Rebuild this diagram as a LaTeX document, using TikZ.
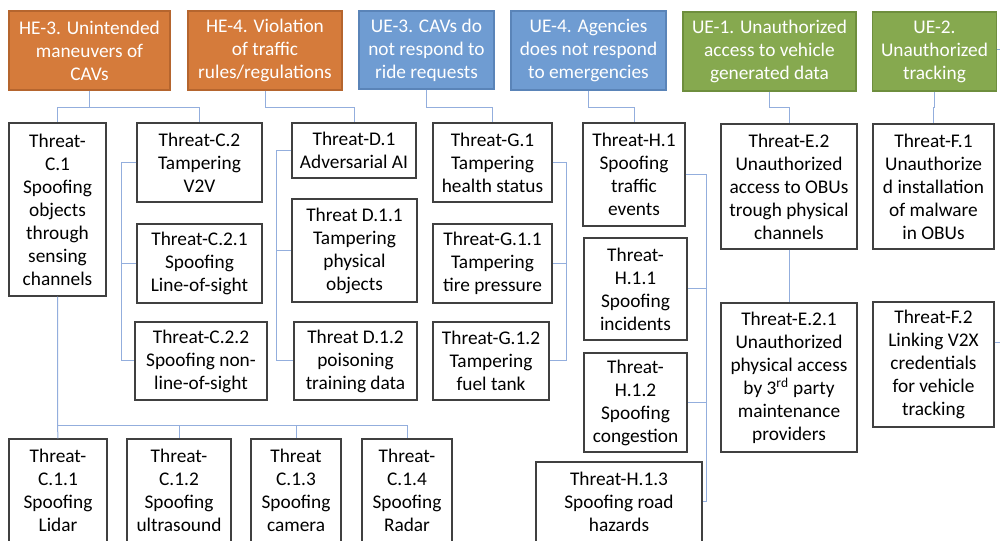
\documentclass[tikz,border=0pt]{standalone}
\usepackage{fontspec}
\setmainfont{Carlito}
\begin{document}
\begin{tikzpicture}[x=0.75pt,y=-0.75pt,
  sz/.style 2 args={minimum width=#1*0.75pt,minimum height=#2*0.75pt},
  base/.style={draw,align=center,inner sep=0pt,line width=0.9pt,
    font=\fontsize{14.5pt}{17.25pt}\selectfont,
    execute at begin node={\rule{0pt}{1.3em}}},
  orangebox/.style={base,fill=heorange,draw=heorangeD,text=white},
  bluebox/.style={base,fill=ueblue,draw=uebllueD,text=white},
  greenbox/.style={base,fill=uegreen,draw=uegreenD,text=white},
  threat/.style={base,fill=white,draw=threatgray,text=black},
  conn/.style={draw=connblue,line width=0.75pt}]
\definecolor{heorange}{HTML}{D57B3B}
\definecolor{heorangeD}{HTML}{B5652E}
\definecolor{ueblue}{HTML}{6F9CD2}
\definecolor{uebllueD}{HTML}{5A84B8}
\definecolor{uegreen}{HTML}{86A94F}
\definecolor{uegreenD}{HTML}{6E8E3D}
\definecolor{threatgray}{HTML}{404040}
\definecolor{connblue}{HTML}{93AEDD}

\useasboundingbox (0,0) rectangle (1000,541);
\clip (0,0) rectangle (1000,541);
\fill[white] (0,0) rectangle (1000,541);

% top row: hazardous and undesirable events
\node[orangebox,sz={161}{79}] (he3) at (89.5,50.5) {HE-3. Unintended\\maneuvers of\\CAVs};
\node[orangebox,sz={154}{79}] (he4) at (265,50.5) {HE-4. Violation\\of traffic\\rules/regulations};
\node[bluebox,sz={135}{78}] (ue3) at (426.5,50) {UE-3. CAVs do\\not respond to\\ride requests};
\node[bluebox,sz={155}{79}] (ue4) at (588.5,50.5) {UE-4. Agencies\\does not respond\\to emergencies};
\node[greenbox,sz={173}{79}] (ue1) at (769.5,51.5) {UE-1. Unauthorized\\access to vehicle\\generated data};
\node[greenbox,sz={124}{79}] (ue2) at (934.5,51.5) {UE-2.\\Unauthorized\\tracking};

% threats under HE-3
\node[threat,sz={97}{173}] (c1) at (57.5,209.5) {Threat-\\C.1\\Spoofing\\objects\\through\\sensing\\channels};
\node[threat,sz={125}{79}] (c2) at (199.5,162.5) {Threat-C.2\\Tampering\\V2V};
\node[threat,sz={125}{79}] (c21) at (199.5,263.5) {Threat-C.2.1\\Spoofing\\Line-of-sight};
\node[threat,sz={132}{78}] (c22) at (201,361) {Threat-C.2.2\\Spoofing non-\\line-of-sight};
\node[threat,sz={98}{103}] (c11) at (58,490.5) {Threat-\\C.1.1\\Spoofing\\Lidar};
\node[threat,sz={104}{103}] (c12) at (179,490.5) {Threat-\\C.1.2\\Spoofing\\ultrasound};
\node[threat,sz={90}{103}] (c13) at (296,490.5) {Threat\\C.1.3\\Spoofing\\camera};
\node[threat,sz={90}{103}] (c14) at (407,490.5) {Threat-\\C.1.4\\Spoofing\\Radar};

% threats under HE-4
\node[threat,sz={124}{55}] (d1) at (354,150.5) {Threat-D.1\\Adversarial AI};
\node[threat,sz={125}{103}] (d11) at (354.5,250.5) {Threat D.1.1\\Tampering\\physical\\objects};
\node[threat,sz={123}{78}] (d12) at (355.5,361) {Threat D.1.2\\poisoning\\training data};

% threats under UE-3
\node[threat,sz={119}{79}] (g1) at (492.5,162.5) {Threat-G.1\\Tampering\\health status};
\node[threat,sz={119}{79}] (g11) at (492.5,263.5) {Threat-G.1.1\\Tampering\\tire pressure};
\node[threat,sz={116}{78}] (g12) at (491,361) {Threat-G.1.2\\Tampering\\fuel tank};

% threats under UE-4
\node[threat,sz={102}{103}] (h1) at (634,174.5) {Threat-H.1\\Spoofing\\traffic\\events};
\node[threat,sz={103}{102}] (h11) at (635.5,289) {Threat-\\H.1.1\\Spoofing\\incidents};
\node[threat,sz={103}{99}] (h12) at (635.5,402.5) {Threat-\\H.1.2\\Spoofing\\congestion};
\node[threat,sz={166}{80}] (h13) at (619,502) {Threat-H.1.3\\Spoofing road\\hazards};

% threats under UE-1 and UE-2
\node[threat,sz={136}{125}] (e2) at (789,186.5) {Threat-E.2\\Unauthorized\\access to OBUs\\trough physical\\channels};
\node[threat,sz={136}{149}] (e21) at (789,377.5) {Threat-E.2.1\\Unauthorized\\physical access\\by 3\textsuperscript{rd} party\\maintenance\\providers};
\node[threat,sz={121}{125}] (f1) at (933.5,186.5) {Threat-F.1\\Unauthorize\\d installation\\of malware\\in OBUs};
\node[threat,sz={121}{125}] (f2) at (933.5,364.5) {Threat-F.2\\Linking V2X\\credentials\\for vehicle\\tracking};

% connectors from the events to their first threats
\draw[conn] (he3.south) -- ++(0,17) coordinate (he3j) -| (c1.north);
\draw[conn] (he3j) -| (c2.north);
\draw[conn] (he4.south) -- ++(0,17) -| (d1.north);
\draw[conn] (ue3.south) -- ++(0,18) -| (g1.north);
\draw[conn] (ue4.south) -- ++(0,17) -| (h1.north);
\draw[conn] (ue1.south) -- ++(0,16) -| (e2.north);
\draw[conn] (ue2.south) -- ++(0,16) -| (f1.north);

% C.2 bracket
\draw[conn] (c2.west) -- ++(-15,0) coordinate (cb) |- (c22.west);
\draw[conn] (cb |- c21.west) -- (c21.west);

% C.1 bus
\draw[conn] (c1.south) -- ++(0,129) coordinate (bus) -- (c11.north);
\draw[conn] (bus) -| (c12.north);
\draw[conn] (bus) -| (c13.north);
\draw[conn] (bus) -| (c14.north);

% D.1 bracket
\draw[conn] (d1.west) -- ++(-15,0) coordinate (db) |- (d12.west);
\draw[conn] (db |- d11.west) -- (d11.west);

% G.1 bracket
\draw[conn] (g1.east) -- ++(14,0) coordinate (gb) |- (g12.east);
\draw[conn] (gb |- g11.east) -- (g11.east);

% H.1 bracket
\draw[conn] (h1.east) -- ++(21,0) coordinate (hb) |- (h13.east);
\draw[conn] (hb |- h11.east) -- (h11.east);
\draw[conn] (hb |- h12.east) -- (h12.east);

% E.2 to E.2.1
\draw[conn] (e2.south) -- (e21.north);

% links leaving to the right
\coordinate (ue2out) at (1005,50);
\coordinate (f2out) at (1005,343);
\draw[conn] (ue2.east |- ue2out) -- (ue2out);
\draw[conn] (f2.east |- f2out) -- (f2out);
\end{tikzpicture}
\end{document}
